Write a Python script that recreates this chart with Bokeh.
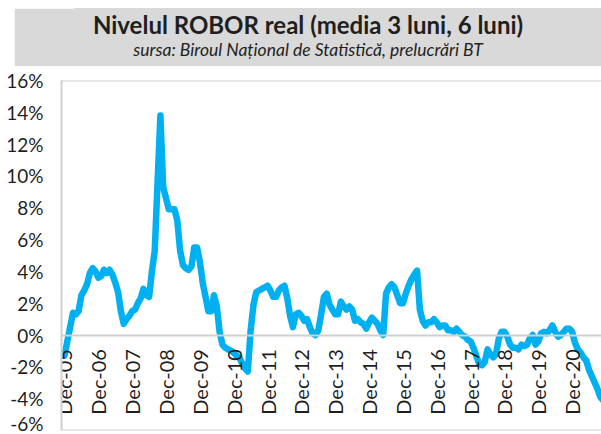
from bokeh.plotting import figure
from bokeh.models import FixedTicker, Span, Range1d, ColumnDataSource, Label
from bokeh.layouts import column
from bokeh.embed import file_html
from bokeh.resources import INLINE
from bokeh.core.properties import value
import math

title_text = "Nivelul ROBOR real (media 3 luni, 6 luni)"
subtitle_text = "sursa: Biroul Național de Statistică, prelucrări BT"

# x tick labels (one every 12 months, starting Dec-05)
tick_labels = ["Dec-05", "Dec-06", "Dec-07", "Dec-08", "Dec-09", "Dec-10", "Dec-11", "Dec-12",
               "Dec-13", "Dec-14", "Dec-15", "Dec-16", "Dec-17", "Dec-18", "Dec-19", "Dec-20"]

# real ROBOR, monthly from Dec-05, in %
real_robor = [
    -1.3, -0.4, 0.5, 1.4, 1.3, 1.5, 2.5, 2.8, 3.2, 3.9, 4.2, 4.0,
    3.6, 3.7, 4.1, 3.9, 4.1, 3.8, 3.3, 2.7, 1.5, 0.7, 1.0, 1.2,
    1.5, 1.6, 2.0, 2.3, 2.9, 2.5, 2.4, 4.0, 5.3, 9.6, 13.8, 9.3,
    8.6, 7.9, 7.9, 7.9, 7.2, 5.3, 4.4, 4.2, 4.1, 4.3, 5.5, 5.5,
    4.6, 3.3, 2.4, 1.5, 1.5, 2.5, 1.8, 0.2, -0.6, -0.8, -0.9, -1.0,
    -1.1, -1.3, -1.4, -1.8, -2.1, -2.3, 0.3, 1.9, 2.7, 2.8, 2.9, 3.0,
    3.1, 2.8, 2.4, 2.4, 2.8, 3.0, 3.1, 2.3, 1.2, 0.5, 1.3, 1.4,
    1.2, 0.9, 1.0, 0.5, 0.1, 0.0, 0.3, 1.3, 2.4, 2.6, 1.9, 1.6,
    1.3, 1.3, 2.1, 1.8, 1.6, 1.8, 1.6, 0.9, 1.0, 0.8, 0.7, 0.4,
    0.8, 1.1, 0.9, 0.7, 0.3, 0.0, 2.6, 3.0, 3.2, 3.0, 2.5, 2.0,
    2.0, 2.6, 3.1, 3.5, 3.8, 4.05, 1.6, 0.9, 0.6, 0.8, 0.8, 1.0,
    0.8, 0.5, 0.6, 0.6, 0.3, 0.3, 0.2, 0.4, 0.2, 0.0, -0.1, -0.3,
    -0.4, -0.8, -1.3, -1.8, -1.9, -1.7, -0.9, -1.2, -1.4, -1.2, -0.2, 0.2,
    0.2, -0.1, -0.6, -0.8, -0.8, -0.9, -0.6, -0.7, -0.6, -0.2, 0.0, -0.6,
    -0.4, 0.1, 0.2, 0.1, 0.3, 0.6, 0.2, -0.1, 0.0, 0.2, 0.4, 0.4,
    0.2, -0.5, -0.9, -1.1, -1.4, -1.6, -2.2, -2.6, -3.0, -3.4, -3.9, -4.1,
]
months = list(range(len(real_robor)))

y_ticks = [-6, -4, -2, 0, 2, 4, 6, 8, 10, 12, 14, 16]

FONT = "Lato"
TXT = "#1f1f1f"
GRAY = "#CFCFCF"
BANNER = "#D9D9D9"

# ---- banner (title box): whole figure gray, offset with a CSS margin ----
banner = figure(width=587, height=58, x_range=Range1d(0, 1), y_range=Range1d(0, 1),
                output_backend="svg", toolbar_location=None,
                x_axis_location=None, y_axis_location=None,
                min_border_left=0, min_border_right=0, min_border_top=0, min_border_bottom=0)
banner.margin = (8, 0, 0, 14)
banner.grid.visible = False
banner.background_fill_color = BANNER
banner.border_fill_color = BANNER
banner.outline_line_color = BANNER
banner.outline_line_width = 3
# frame of the banner is aligned with the chart frame (61 px from its left edge)
banner.add_layout(Label(x=232.5, y=42, x_units="screen", y_units="screen", text=title_text,
                        text_font=FONT, text_font_style="bold", text_font_size="24px",
                        text_align="center", text_baseline="middle", text_color=TXT))
banner.add_layout(Label(x=232.5, y=17, x_units="screen", y_units="screen", text=subtitle_text,
                        text_font=FONT, text_font_style="italic", text_font_size="17.5px",
                        text_align="center", text_baseline="middle", text_color=TXT))

# ---- chart ----
p = figure(width=601, height=368, x_range=Range1d(-1.06, 190.4), y_range=Range1d(-6.0, 16.0),
           output_backend="svg", toolbar_location=None,
           min_border_left=61, min_border_right=0, min_border_top=14, min_border_bottom=4)
p.grid.visible = False
p.outline_line_color = None
p.background_fill_color = "white"
p.border_fill_color = "white"

src = ColumnDataSource(dict(m=months, v=real_robor))
p.line("m", "v", source=src, line_color="#00B0F0", line_width=6.5, line_join="round", line_cap="round")

# y axis
p.yaxis.ticker = FixedTicker(ticks=y_ticks)
p.yaxis.major_label_overrides = {t: f"{t}%" for t in y_ticks}
p.yaxis.axis_line_color = GRAY
p.yaxis.axis_line_width = 2
p.yaxis.major_tick_line_color = None
p.yaxis.minor_tick_line_color = None
p.yaxis.major_tick_out = 0
p.yaxis.major_label_standoff = 18
p.yaxis.major_label_text_font = FONT
p.yaxis.major_label_text_font_size = "19px"
p.yaxis.major_label_text_color = TXT

# x axis at y = 0
x_tick_pos = [12 * i for i in range(len(tick_labels))]
p.xaxis.fixed_location = 0
p.xaxis.ticker = FixedTicker(ticks=x_tick_pos)
p.xaxis.major_label_overrides = {pos: lab for pos, lab in zip(x_tick_pos, tick_labels)}
p.xaxis.major_label_orientation = math.pi / 2
p.xaxis.axis_line_color = GRAY
p.xaxis.axis_line_width = 2
p.xaxis.major_tick_line_color = None
p.xaxis.minor_tick_line_color = None
p.xaxis.major_tick_out = 0
p.xaxis.major_label_standoff = 14
p.xaxis.major_label_text_font = FONT
p.xaxis.major_label_text_font_size = "20px"
p.xaxis.major_label_text_color = TXT

# plot-area top and bottom borders
p.add_layout(Span(location=16.0, dimension="width", line_color=GRAY, line_width=2))
p.add_layout(Span(location=-6.0, dimension="width", line_color=GRAY, line_width=2))

layout = column(banner, p, spacing=0)
open("out.html", "w").write(file_html(layout, INLINE))
